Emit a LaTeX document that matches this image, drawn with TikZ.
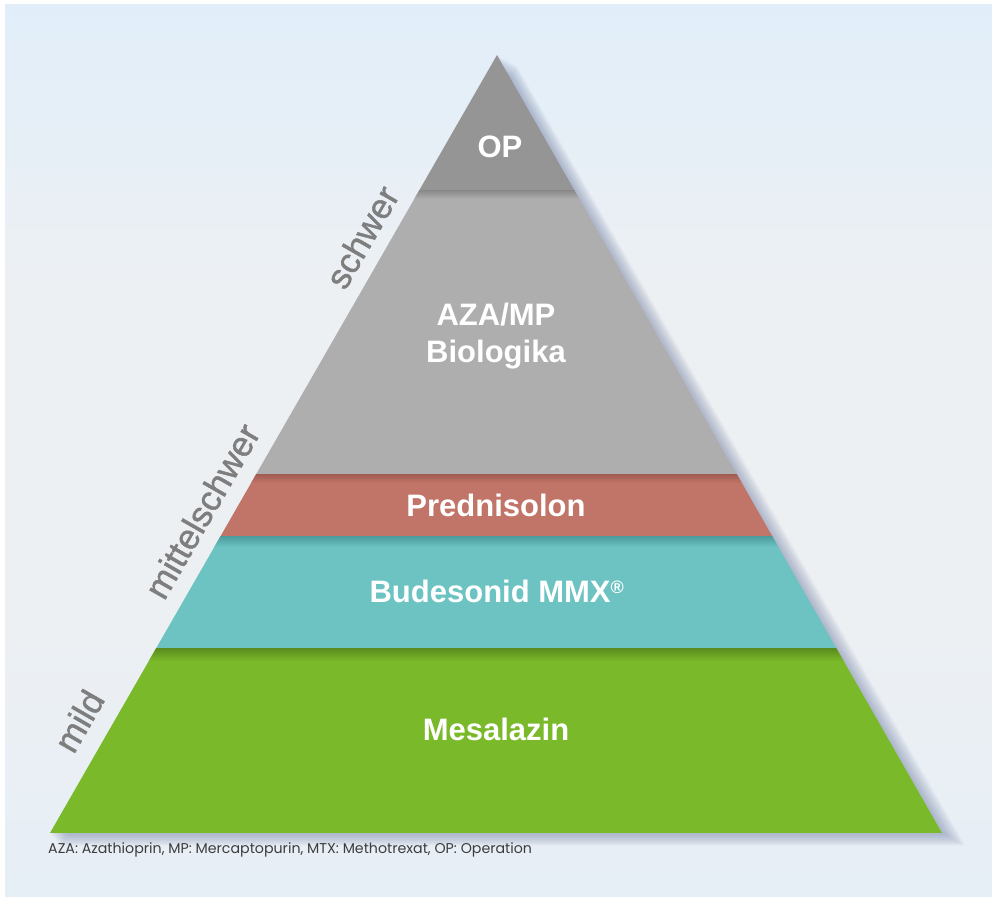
\documentclass[tikz,border=0pt]{standalone}
\usepackage{fontspec}
\setmainfont{Liberation Sans}
\newfontfamily\footfont{Poppins}
\newfontfamily\sidefont[FakeBold=1.2]{Liberation Sans}
\definecolor{bgtop}{HTML}{E1EEF9}
\definecolor{bgmid}{HTML}{EDF0F3}
\definecolor{bgbot}{HTML}{E6EEF6}
\definecolor{opgray}{HTML}{959595}
\definecolor{azagray}{HTML}{AFAEAE}
\definecolor{azadark}{HTML}{8C8C8C}
\definecolor{predred}{HTML}{C17468}
\definecolor{preddark}{HTML}{A45F55}
\definecolor{budteal}{HTML}{6CC3C2}
\definecolor{buddark}{HTML}{4E9F9E}
\definecolor{mesgreen}{HTML}{7AB929}
\definecolor{mesdark}{HTML}{5B8E1E}
\definecolor{sidegray}{HTML}{7E7E7E}
\definecolor{foottext}{HTML}{3C3C3C}
\definecolor{shadowcol}{HTML}{7A88AC}
\tikzset{
  layerlabel/.style={text=white, font=\fontsize{31}{37}\selectfont\bfseries, align=center, inner sep=0pt},
  sidelabel/.style={text=sidegray, font=\sidefont\fontsize{35}{40}\selectfont, rotate=60.1, inner sep=0pt, anchor=center},
  footlabel/.style={text=foottext, font=\footfont\fontsize{14.2}{16}\selectfont, anchor=base west, inner sep=0pt}
}
\begin{document}
\begin{tikzpicture}[x=1pt,y=1pt]
\useasboundingbox (0,0) rectangle (992,896);
\fill[white] (0,0) rectangle (992,896);
\shade[top color=bgtop, bottom color=bgmid, middle color=bgmid] (5,300) rectangle (992,891);
\shade[top color=bgmid, bottom color=bgbot] (5,0) rectangle (992,300.5);
% shadow
\foreach \k in {1,...,18}{
  \fill[shadowcol, opacity=0.035] ({497+\k*1.1},{841-\k*0.6}) -- ({50+\k*0.6},{63-\k*0.7}) -- ({942+\k*1.3},{63-\k*0.7}) -- cycle;
}
\begin{scope}
\clip (497,841) -- (50,63) -- (942,63) -- cycle;
\fill[opgray] (0,705) rectangle (992,845);
\fill[azagray] (0,421) rectangle (992,705);
\shade[top color=azadark, bottom color=azagray] (0,697) rectangle (992,705);
\fill[predred] (0,359) rectangle (992,421);
\shade[top color=preddark, bottom color=predred] (0,413) rectangle (992,421);
\fill[budteal] (0,247) rectangle (992,359);
\shade[top color=buddark, bottom color=budteal] (0,349) rectangle (992,359);
\fill[mesgreen] (0,60) rectangle (992,247);
\shade[top color=mesdark, bottom color=mesgreen] (0,235) rectangle (992,247);
\end{scope}
% layer labels
\node[layerlabel, anchor=base] (op) at (500,738) {OP};
\node[layerlabel, anchor=base] (aza) at (496,570) {AZA/MP};
\node[layerlabel, anchor=base] (bio) at (496,533) {Biologika};
\node[layerlabel, anchor=base] (pred) at (496,379) {Prednisolon};
\node[layerlabel, anchor=base] (bud) at (497,293) {Budesonid MMX\textsuperscript{\fontsize{18}{18}\selectfont ®}};
\node[layerlabel, anchor=base] (mes) at (496,155) {Mesalazin};
% side labels
\node[sidelabel] (schwer) at (362,659) {schwer};
\node[sidelabel] (mittel) at (202,385) {mittelschwer};
\node[sidelabel] (mild) at (79,175) {mild};
% footnote
\node[footlabel] (foot) at (48,43) {AZA: Azathioprin, MP: Mercaptopurin, MTX: Methotrexat, OP: Operation};
\end{tikzpicture}
\end{document}
